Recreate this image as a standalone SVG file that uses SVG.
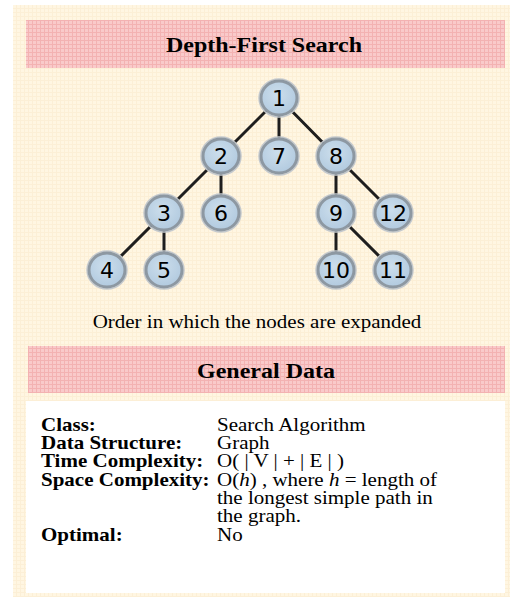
<svg xmlns="http://www.w3.org/2000/svg" width="517" height="599" viewBox="0 0 517 599">
<defs>
<pattern id="cream" width="4" height="4" patternUnits="userSpaceOnUse">
<rect width="4" height="4" fill="#FFF6E2"/>
<path d="M0 0.5H4M0.5 0V4" stroke="#FCEFD6" stroke-width="1"/>
</pattern>
<pattern id="pink" width="4" height="4" patternUnits="userSpaceOnUse">
<rect width="4" height="4" fill="#F9CACA"/>
<path d="M0 0.5H4M0.5 0V4" stroke="#F3B2B2" stroke-width="1"/>
</pattern>
<radialGradient id="nodeFill" cx="0.45" cy="0.4" r="0.6">
<stop offset="0" stop-color="#CCDEEC"/>
<stop offset="1" stop-color="#B2CADF"/>
</radialGradient>
<style>
.hdr{font-family:"Liberation Serif","Times New Roman",serif;font-weight:bold;font-size:24px;fill:#000;text-anchor:middle}
.body{font-family:"Liberation Serif","Times New Roman",serif;font-size:21px;fill:#000}
.lbl{font-weight:bold}
.node ellipse.ring{fill:url(#nodeFill);stroke:#8D98A2;stroke-width:3}
.node ellipse.halo{fill:none;stroke:#C4C9CE;stroke-width:1.5}
.node text{font-family:"DejaVu Sans",sans-serif;font-size:22px;fill:#000;text-anchor:middle}
.edge{stroke:#1E1E1E;stroke-width:3;stroke-linecap:round}
</style>
</defs>
<rect x="0" y="0" width="517" height="599" fill="#FFFFFF"/>
<rect x="13" y="5" width="497" height="592" fill="url(#cream)"/>
<rect x="26" y="20" width="479" height="48" fill="url(#pink)"/>
<text class="hdr" transform="translate(264,52) scale(1,0.86)">Depth-First Search</text>

<g id="connectors">
<line class="edge" x1="279" y1="98" x2="221" y2="156"/>
<line class="edge" x1="279" y1="98" x2="279" y2="156"/>
<line class="edge" x1="279" y1="98" x2="336" y2="156"/>
<line class="edge" x1="221" y1="156" x2="164" y2="213"/>
<line class="edge" x1="221" y1="156" x2="221" y2="213"/>
<line class="edge" x1="164" y1="213" x2="107" y2="270"/>
<line class="edge" x1="164" y1="213" x2="164" y2="270"/>
<line class="edge" x1="336" y1="156" x2="336" y2="213"/>
<line class="edge" x1="336" y1="156" x2="393" y2="213"/>
<line class="edge" x1="336" y1="213" x2="336" y2="270"/>
<line class="edge" x1="336" y1="213" x2="393" y2="270"/>
</g>

<g id="n1" class="node"><ellipse class="halo" cx="279" cy="98" rx="20" ry="19"/><ellipse class="ring" cx="279" cy="98" rx="18" ry="17"/><text x="279" y="106">1</text></g>
<g id="n2" class="node"><ellipse class="halo" cx="221" cy="156" rx="20" ry="19"/><ellipse class="ring" cx="221" cy="156" rx="18" ry="17"/><text x="221" y="164">2</text></g>
<g id="n7" class="node"><ellipse class="halo" cx="279" cy="156" rx="20" ry="19"/><ellipse class="ring" cx="279" cy="156" rx="18" ry="17"/><text x="279" y="164">7</text></g>
<g id="n8" class="node"><ellipse class="halo" cx="336" cy="156" rx="20" ry="19"/><ellipse class="ring" cx="336" cy="156" rx="18" ry="17"/><text x="336" y="164">8</text></g>
<g id="n3" class="node"><ellipse class="halo" cx="164" cy="213" rx="20" ry="19"/><ellipse class="ring" cx="164" cy="213" rx="18" ry="17"/><text x="164" y="221">3</text></g>
<g id="n6" class="node"><ellipse class="halo" cx="221" cy="213" rx="20" ry="19"/><ellipse class="ring" cx="221" cy="213" rx="18" ry="17"/><text x="221" y="221">6</text></g>
<g id="n9" class="node"><ellipse class="halo" cx="336" cy="213" rx="20" ry="19"/><ellipse class="ring" cx="336" cy="213" rx="18" ry="17"/><text x="336" y="221">9</text></g>
<g id="n12" class="node"><ellipse class="halo" cx="393" cy="213" rx="20" ry="19"/><ellipse class="ring" cx="393" cy="213" rx="18" ry="17"/><text x="393" y="221">12</text></g>
<g id="n4" class="node"><ellipse class="halo" cx="107" cy="270" rx="20" ry="19"/><ellipse class="ring" cx="107" cy="270" rx="18" ry="17"/><text x="107" y="278">4</text></g>
<g id="n5" class="node"><ellipse class="halo" cx="164" cy="270" rx="20" ry="19"/><ellipse class="ring" cx="164" cy="270" rx="18" ry="17"/><text x="164" y="278">5</text></g>
<g id="n10" class="node"><ellipse class="halo" cx="336" cy="270" rx="20" ry="19"/><ellipse class="ring" cx="336" cy="270" rx="18" ry="17"/><text x="336" y="278">10</text></g>
<g id="n11" class="node"><ellipse class="halo" cx="393" cy="270" rx="20" ry="19"/><ellipse class="ring" cx="393" cy="270" rx="18" ry="17"/><text x="393" y="278">11</text></g>

<text class="body" text-anchor="middle" transform="translate(257,328) scale(1,0.9)">Order in which the nodes are expanded</text>

<rect x="28" y="346" width="477" height="47" fill="url(#pink)"/>
<text class="hdr" transform="translate(266,378) scale(1,0.86)">General Data</text>

<rect x="26" y="401" width="479" height="192" fill="#FFFFFF"/>
<g class="body">
<text class="lbl" transform="translate(41,431) scale(1,0.86)">Class:</text>
<text class="lbl" transform="translate(41,449) scale(1,0.86)">Data Structure:</text>
<text class="lbl" transform="translate(41,467) scale(1,0.86)">Time Complexity:</text>
<text class="lbl" transform="translate(41,486) scale(1,0.86)">Space Complexity:</text>
<text class="lbl" transform="translate(41,541) scale(1,0.86)">Optimal:</text>
<text transform="translate(217,431) scale(1,0.86)">Search Algorithm</text>
<text transform="translate(217,449) scale(1,0.86)">Graph</text>
<text transform="translate(217,467) scale(1,0.86)">O( | V | + | E | )</text>
<text transform="translate(217,486) scale(1,0.86)">O(<tspan font-style="italic">h</tspan>) , where <tspan font-style="italic">h</tspan> = length of</text>
<text transform="translate(217,504) scale(1,0.86)">the longest simple path in</text>
<text transform="translate(217,522) scale(1,0.86)">the graph.</text>
<text transform="translate(217,541) scale(1,0.86)">No</text>
</g>
</svg>
